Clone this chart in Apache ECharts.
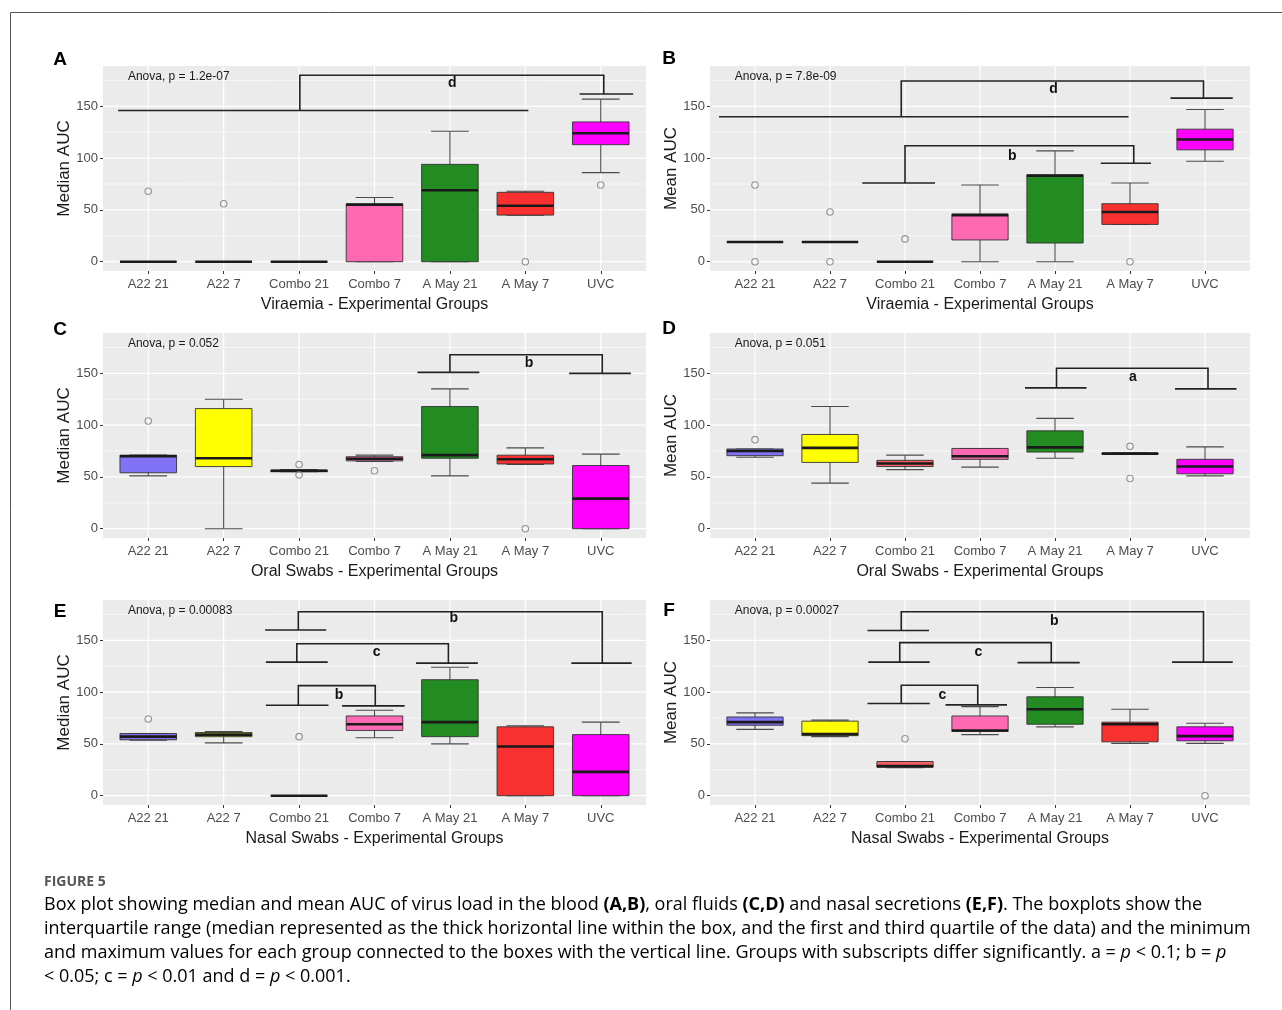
<!DOCTYPE html>
<html><head><meta charset="utf-8">
<script src="https://cdn.jsdelivr.net/npm/echarts@6/dist/echarts.min.js"></script>
<style>html,body{margin:0;padding:0;background:#fff}#c{width:1282px;height:1010px}</style>
</head><body><div id="c"></div>
<script>
// ---------- data ----------
const categories = ['A22 21','A22 7','Combo 21','Combo 7','A May 21','A May 7','UVC'];
const boxColors = ['#8272F6','#FFFF00','#F26262','#FF69B4','#228B22','#F83030','#FF00FF'];
const yTicks = [0, 50, 100, 150];
const yMinor = [25, 75, 125, 175];

// [min, q1, median, q3, max] per category
const boxA = [[0,0,0,0,0],[0,0,0,0,0],[0,0,0,0,0],[0,0,55,56,62],[0,0,69,94,126],[45,45,54,67,68],[86,113,124,135,157]];
const outA = [[0,68],[1,56],[5,0],[6,74]];
const boxB = [[19,19,19,19,19],[19,19,19,19,19],[0,0,0,0,0],[0,21,45,46,74],[0,18,83,84,107],[36,36,48,56,76],[97,108,118,128,147]];
const outB = [[0,0],[0,74],[1,0],[1,48],[2,22],[5,0]];
const boxC = [[51,54,70,71,71],[0,60,68,116,125],[55,55,56,56.5,57],[65,65.5,67.5,69.5,71],[51,68,71,118,135],[62,62.5,67,71,78],[0,0,29,61,72]];
const outC = [[0,104],[2,52],[2,62],[3,56],[5,0]];
const boxD = [[69,70.5,75,77,77],[44,64,78,91,118],[57,60,63,66,71],[59.5,67,70,77.5,77.5],[68,74,78.5,94.5,106.5],[72,72,72.5,73,73],[51,53,60,67,79]];
const outD = [[0,86],[5,79.5],[5,48.5]];
const boxE = [[53.5,54,57,60,60],[51,57,59,61,62],[0,0,0,0,0],[56,63,69,77,82.5],[50,57,71,112,124],[0,0,47.5,66.5,67.5],[0,0,23,59,71]];
const outE = [[0,74],[2,57]];
const boxF = [[64,68,71,76,80],[57,58,59.5,72,73],[27,27.5,28.5,33,33],[59,62,63,77,86],[66.5,69,83.5,95.5,104.5],[50.5,52,69,71,83.5],[50.5,53,57.5,66.5,70]];
const outF = [[2,55],[6,0]];

// brackets: [leftX1, leftX2, leftY, rightX1, rightX2, rightY, stemX1, stemX2, topY, labelX, labelY]
const bracketsA = [[-0.40,5.04,146, 5.72,6.43,162, 2.01,6.04,180, 4.03,172]];
const bracketLabelsA = ['d'];
const bracketsB = [[-0.48,4.98,140, 5.54,6.37,158, 1.95,5.98,174.5, 3.98,167],
                   [1.43,2.40,76, 4.61,5.28,95, 2.00,5.05,112, 3.43,101.5]];
const bracketLabelsB = ['d','b'];
const bracketsC = [[3.57,4.39,151, 5.58,6.40,150, 4.00,6.02,168, 5.05,159.5]];
const bracketLabelsC = ['b'];
const bracketsD = [[3.60,4.42,136, 5.60,6.42,135, 4.02,6.04,155, 5.04,146]];
const bracketLabelsD = ['a'];
const bracketsE = [[1.55,2.36,160, 5.61,6.41,128, 1.99,6.02,177.6, 4.05,171],
                   [1.56,2.38,129, 3.55,4.37,128, 1.97,3.98,146.8, 3.03,139],
                   [1.56,2.39,87.4, 2.57,3.40,86.7, 1.99,3.01,106.3, 2.53,97]];
const bracketLabelsE = ['b','c','b'];
const bracketsF = [[1.50,2.32,159.6, 5.56,6.37,129, 1.95,5.98,177.6, 3.99,169],
                   [1.51,2.33,129, 3.50,4.33,128.5, 1.93,3.95,147.8, 2.98,139],
                   [1.50,2.33,89, 2.54,3.36,87.7, 1.95,2.97,106.6, 2.50,97]];
const bracketLabelsF = ['b','c','c'];

const anovaLabels = ['Anova, p = 1.2e-07','Anova, p = 7.8e-09','Anova, p = 0.052','Anova, p = 0.051','Anova, p = 0.00083','Anova, p = 0.00027'];
const anovaPos = [-0.27, 179];
const xTitles = ['Viraemia - Experimental Groups','Viraemia - Experimental Groups','Oral Swabs - Experimental Groups','Oral Swabs - Experimental Groups','Nasal Swabs - Experimental Groups','Nasal Swabs - Experimental Groups'];
const yTitles = ['Median AUC','Mean AUC','Median AUC','Mean AUC','Median AUC','Mean AUC'];
const panelLetters = ['A','B','C','D','E','F'];
const yRange = [-9, 189];
const xRange = [-0.6, 6.6];

// ---------- layout ----------
const FONT = '"Liberation Sans", Arial, sans-serif';
const gridRects = [[103,66,543,205],[710,66,540,205],[103,333,543,205],[710,333,540,205],[103,600,543,205],[710,600,540,205]];
const letterPos = [[60,60],[669,59],[60,330],[669,329],[60,612],[669,611]];

const panels = [
  {box:boxA,out:outA,br:bracketsA,bl:bracketLabelsA},
  {box:boxB,out:outB,br:bracketsB,bl:bracketLabelsB},
  {box:boxC,out:outC,br:bracketsC,bl:bracketLabelsC},
  {box:boxD,out:outD,br:bracketsD,bl:bracketLabelsD},
  {box:boxE,out:outE,br:bracketsE,bl:bracketLabelsE},
  {box:boxF,out:outF,br:bracketsF,bl:bracketLabelsF}
];

const catIdx = categories.map((c,i)=>i);
const grids=[], xAxes=[], yAxes=[], series=[], graphics=[];

panels.forEach((p,g)=>{
  const r = gridRects[g];
  grids.push({left:r[0], top:r[1], width:r[2], height:r[3], show:true, backgroundColor:'#EBEBEB', borderWidth:0});
  xAxes.push({type:'value', gridIndex:g, min:xRange[0], max:xRange[1],
    axisLine:{show:false,onZero:false}, splitLine:{show:false},
    axisTick:{show:true, length:3, customValues:catIdx, lineStyle:{color:'#333',width:1}},
    axisLabel:{customValues:catIdx, formatter:v=>categories[Math.round(v)], color:'#4d4d4d', fontSize:13, fontFamily:FONT, margin:7},
    name:xTitles[g], nameLocation:'middle', nameGap:26,
    nameTextStyle:{fontSize:16, color:'#1a1a1a', fontFamily:FONT}});
  yAxes.push({type:'value', gridIndex:g, min:yRange[0], max:yRange[1],
    axisLine:{show:false,onZero:false}, splitLine:{show:false},
    axisTick:{show:true, length:3, customValues:yTicks, lineStyle:{color:'#333',width:1}},
    axisLabel:{customValues:yTicks, color:'#4d4d4d', fontSize:13, fontFamily:FONT, margin:5},
    name:yTitles[g], nameLocation:'middle', nameGap:30,
    nameTextStyle:{fontSize:17, color:'#1a1a1a', fontFamily:FONT}});

  // gridlines: [kind, value]  kind 0 = major horiz, 1 = minor horiz, 2 = vertical
  const gl = [...yMinor.map(v=>[1,v]), ...yTicks.map(v=>[0,v]), ...catIdx.map(i=>[2,i])];
  series.push({type:'custom', xAxisIndex:g, yAxisIndex:g, z:1, silent:true, animation:false,
    data: gl, encode:{x:-1,y:-1},
    renderItem:(params, api)=>{
      const cs = params.coordSys;
      const kind = api.value(0), v = api.value(1);
      if (kind === 2) {
        const x = api.coord([v, 0])[0];
        return {type:'line', shape:{x1:x,y1:cs.y,x2:x,y2:cs.y+cs.height}, style:{stroke:'#fff', lineWidth:1.2}};
      }
      const y = api.coord([0, v])[1];
      return {type:'line', shape:{x1:cs.x,y1:y,x2:cs.x+cs.width,y2:y}, style:{stroke:'#fff', lineWidth: kind===0?1.2:0.6}};
    }});

  // boxes
  series.push({type:'custom', xAxisIndex:g, yAxisIndex:g, z:3, silent:true, animation:false,
    data: p.box.map((b,i)=>[i, ...b]), encode:{x:0, y:[1,2,3,4,5]},
    renderItem:(params, api)=>{
      const i = api.value(0);
      const mn=api.value(1), q1=api.value(2), md=api.value(3), q3=api.value(4), mx=api.value(5);
      const unit = api.size([1,0])[0];
      const cx = api.coord([i,0])[0];
      const Y = v => api.coord([i,v])[1];
      const bw = unit*0.75/2, cw = unit*0.5/2;
      const ws = {stroke:'#4a4a4a', lineWidth:1.1};
      return {type:'group', children:[
        {type:'line', shape:{x1:cx,y1:Y(mn),x2:cx,y2:Y(mx)}, style:ws},
        {type:'line', shape:{x1:cx-cw,y1:Y(mx),x2:cx+cw,y2:Y(mx)}, style:ws},
        {type:'line', shape:{x1:cx-cw,y1:Y(mn),x2:cx+cw,y2:Y(mn)}, style:ws},
        {type:'rect', shape:{x:cx-bw, y:Y(q3), width:2*bw, height:Y(q1)-Y(q3)}, style:{fill:boxColors[i], stroke:'#333', lineWidth:0.9}},
        {type:'line', shape:{x1:cx-bw,y1:Y(md),x2:cx+bw,y2:Y(md)}, style:{stroke:'#1a1a1a', lineWidth:2.6}}
      ]};
    }});

  // outliers
  series.push({type:'scatter', xAxisIndex:g, yAxisIndex:g, z:4, silent:true, animation:false,
    data:p.out, symbol:'circle', symbolSize:6.5,
    itemStyle:{color:'rgba(0,0,0,0)', borderColor:'#7a7a7a', borderWidth:1.1}});

  // significance brackets
  const labels = p.bl;
  series.push({type:'custom', xAxisIndex:g, yAxisIndex:g, z:5, silent:true, animation:false,
    data:p.br, encode:{x:0, y:2},
    renderItem:(params, api)=>{
      const v = k => api.value(k);
      const P = (x,y) => api.coord([x,y]);
      const a=P(v(0),v(2)), b=P(v(1),v(2)), c=P(v(3),v(5)), d=P(v(4),v(5));
      const e=P(v(6),v(2)), f=P(v(6),v(8)), gg=P(v(7),v(8)), h=P(v(7),v(5)), t=P(v(9),v(10));
      const st = {stroke:'#222', lineWidth:1.6, fill:null};
      return {type:'group', children:[
        {type:'line', shape:{x1:a[0],y1:a[1],x2:b[0],y2:b[1]}, style:st},
        {type:'line', shape:{x1:c[0],y1:c[1],x2:d[0],y2:d[1]}, style:st},
        {type:'polyline', shape:{points:[e,f,gg,h]}, style:st},
        {type:'text', x:t[0], y:t[1], style:{text:labels[params.dataIndex], font:'bold 14px '+FONT, fill:'#111', align:'center', verticalAlign:'middle'}}
      ]};
    }});

  // anova annotation
  const atext = anovaLabels[g];
  series.push({type:'custom', xAxisIndex:g, yAxisIndex:g, z:5, silent:true, animation:false,
    data:[anovaPos], encode:{x:0,y:1},
    renderItem:(params, api)=>{
      const pt = api.coord([api.value(0), api.value(1)]);
      return {type:'text', x:pt[0], y:pt[1], style:{text:atext, font:'12px '+FONT, fill:'#1a1a1a', align:'left', verticalAlign:'middle'}};
    }});

  graphics.push({type:'text', x:letterPos[g][0], y:letterPos[g][1], style:{text:panelLetters[g], font:'bold 19px '+FONT, fill:'#000', align:'center', verticalAlign:'middle'}});
});

// frame
graphics.push({type:'line', shape:{x1:10.5,y1:12.5,x2:1282,y2:12.5}, style:{stroke:'#555', lineWidth:1}});
graphics.push({type:'line', shape:{x1:10.5,y1:12.5,x2:10.5,y2:1010}, style:{stroke:'#555', lineWidth:1}});

// caption
const CAP = '"Open Sans", "Noto Sans", sans-serif';
const CAPSIZE = 18;
const capRich = {
  n:{fontFamily:CAP, fontSize:CAPSIZE, color:'#3c3c3c'},
  b:{fontFamily:CAP, fontSize:CAPSIZE, color:'#3c3c3c', fontWeight:'bold'},
  i:{fontFamily:CAP, fontSize:CAPSIZE, color:'#3c3c3c', fontStyle:'italic'}
};
const captionLines = [
  '{n|Box plot showing median and mean AUC of virus load in the blood }{b|(A,B)}{n|, oral fluids }{b|(C,D)}{n| and nasal secretions }{b|(E,F)}{n|. The boxplots show the}',
  '{n|interquartile range (median represented as the thick horizontal line within the box, and the first and third quartile of the data) and the minimum}',
  '{n|and maximum values for each group connected to the boxes with the vertical line. Groups with subscripts differ significantly. a = }{i|p}{n| < 0.1; b = }{i|p}',
  '{n|< 0.05; c = }{i|p}{n| < 0.01 and d = }{i|p}{n| < 0.001.}'
];
graphics.push({type:'text', x:44, y:882, style:{text:'FIGURE 5', font:'bold 14px '+CAP, fill:'#555', align:'left', verticalAlign:'middle'}});
captionLines.forEach((t,k)=>{
  graphics.push({type:'text', x:44, y:905+24*k, style:{text:t, rich:capRich, align:'left', verticalAlign:'middle'}});
});

const chart = echarts.init(document.getElementById('c'));
chart.setOption({
  animation:false,
  backgroundColor:'#fff',
  grid:grids, xAxis:xAxes, yAxis:yAxes, series:series, graphic:graphics
});
</script></body></html>
